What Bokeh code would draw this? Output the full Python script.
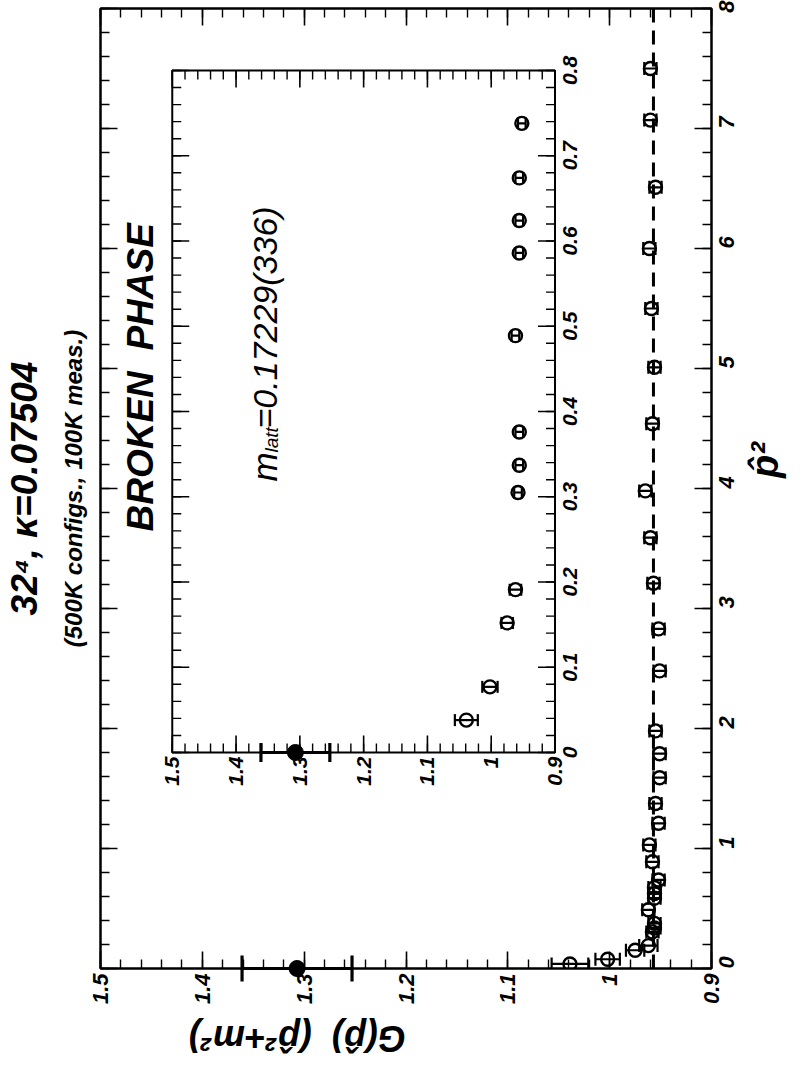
import math
import numpy as np
from bokeh.plotting import figure
from bokeh.models import (Range1d, LinearAxis, FixedTicker, CustomJSTickFormatter,
                          Span, Label, Title, ColumnDataSource)
from bokeh.core.properties import value
from bokeh.embed import file_html
from bokeh.resources import INLINE

# ---------------- data ----------------
P2 = [0.038, 0.077, 0.152, 0.191, 0.305, 0.337, 0.376, 0.489, 0.586, 0.624, 0.674, 0.738,
      0.889, 1.03, 1.21, 1.375, 1.59, 1.79, 1.98, 2.48, 2.83, 3.21, 3.59, 3.98, 4.54,
      5.01, 5.50, 6.00, 6.51, 7.07, 7.50]
G = [1.039, 1.002, 0.975, 0.962, 0.958, 0.956, 0.956, 0.962, 0.956, 0.956, 0.956, 0.952,
     0.958, 0.961, 0.952, 0.955, 0.951, 0.951, 0.955, 0.951, 0.952, 0.957, 0.960, 0.965, 0.958,
     0.956, 0.959, 0.961, 0.955, 0.960, 0.960]
G_ERR = [0.018, 0.012, 0.009, 0.009, 0.006, 0.006, 0.006, 0.006, 0.006, 0.006, 0.006, 0.006,
         0.006, 0.006, 0.006, 0.006, 0.006, 0.006, 0.006, 0.006, 0.006, 0.006, 0.006, 0.006, 0.006,
         0.006, 0.006, 0.006, 0.006, 0.006, 0.006]
ZERO_P2 = [0.0]
ZERO_G = [1.307]
ZERO_ERR = [0.054]
FIT_G = 0.957

G_TICKS = [0.9, 1.0, 1.1, 1.2, 1.3, 1.4, 1.5]
G_TICK_LABELS = ["0.9", "1", "1.1", "1.2", "1.3", "1.4", "1.5"]
P2_TICKS = [0, 1, 2, 3, 4, 5, 6, 7, 8]
P2_TICK_LABELS = ["0", "1", "2", "3", "4", "5", "6", "7", "8"]
INSET_P2_TICKS = [0.0, 0.1, 0.2, 0.3, 0.4, 0.5, 0.6, 0.7, 0.8]
INSET_P2_TICK_LABELS = ["0", "0.1", "0.2", "0.3", "0.4", "0.5", "0.6", "0.7", "0.8"]

G_LIM = (1.5, 0.9)
P2_LIM = (0.0, 8.0)
INSET_P2_LIM = (0.0, 0.8)

NB = "\u00a0"
TITLE = "32\u2074, \u03ba=0.07504"
SUBTITLE = "(500K configs., 100K meas.)"
PHASE_TEXT = "BROKEN" + NB + NB + "PHASE"
MASS_PARTS = ["m", "latt", "=0.17229(336)"]
G_AXIS_LABEL = "G(p\u0302)" + NB + NB + "(p\u0302\u00b2+m\u00b2)"
P2_AXIS_LABEL = "p\u0302\u00b2"

# ---------------- layout (page pixels) ----------------
FONT = "Liberation Sans"
W, H = 809, 1084
FX0, FX1 = 100, 713      # main frame left/right on the page
FY0, FY1 = 8, 968        # main frame top/bottom on the page
IX0, IX1 = 172, 556      # inset frame left/right
IY0, IY1 = 70, 752       # inset frame top/bottom

def gx(px):
    return G_LIM[0] + (px - FX0) * (G_LIM[1] - G_LIM[0]) / (FX1 - FX0)

def gy(py):
    return P2_LIM[0] + (FY1 - py) * (P2_LIM[1] - P2_LIM[0]) / (FY1 - FY0)

p = figure(width=W, height=H, x_range=Range1d(*G_LIM), y_range=Range1d(*P2_LIM),
           output_backend="svg", toolbar_location=None,
           x_axis_location="below", y_axis_location="right",
           min_border_left=FX0, min_border_right=W - FX1,
           min_border_top=FY0, min_border_bottom=H - FY1)
p.grid.visible = False
p.outline_line_color = "black"
p.outline_line_width = 2
p.background_fill_color = "white"
p.border_fill_color = "white"

p.add_layout(LinearAxis(), "above")
p.add_layout(LinearAxis(), "left")

g_minor = list(np.round(np.arange(0.9, 1.5001, 0.02), 3))
p2_minor = list(np.round(np.arange(0.0, 8.0001, 0.2), 3))
ip2_minor = list(np.round(np.arange(0.0, 0.8001, 0.02), 3))

def fmt(vals, labs):
    return CustomJSTickFormatter(args=dict(vals=vals, labs=labs), code="""
        for (let i = 0; i < vals.length; i++) {
            if (Math.abs(vals[i] - tick) < 1e-6) { return labs[i]; }
        }
        return '';
    """)

for ax in p.xaxis:
    ax.ticker = FixedTicker(ticks=G_TICKS, minor_ticks=g_minor)
for ax in p.yaxis:
    ax.ticker = FixedTicker(ticks=P2_TICKS, minor_ticks=p2_minor)

for ax in list(p.xaxis) + list(p.yaxis):
    ax.axis_line_width = 2
    ax.major_tick_in = 17
    ax.major_tick_out = 0
    ax.minor_tick_in = 9
    ax.minor_tick_out = 0
    ax.major_tick_line_width = 1.6
    ax.minor_tick_line_width = 1.4
    ax.major_label_text_font = FONT
    ax.major_label_text_font_style = "bold italic"
    ax.major_label_text_font_size = "22px"
    ax.major_label_text_color = "black"
    ax.major_label_orientation = math.pi / 2

xb = [a for a in p.xaxis if a in p.below][0]
xa = [a for a in p.xaxis if a in p.above][0]
yr = [a for a in p.yaxis if a in p.right][0]
yl = [a for a in p.yaxis if a in p.left][0]
xb.formatter = fmt(G_TICKS, G_TICK_LABELS)
yr.formatter = fmt(P2_TICKS, P2_TICK_LABELS)
xb.major_label_standoff = 5
yr.major_label_standoff = 15
for ax in (xa, yl):
    ax.formatter = fmt([], [])
    ax.major_label_text_font_size = "0px"
    ax.major_label_standoff = 0

# axis titles (rotated like the rest of the page)
xb.axis_label = G_AXIS_LABEL
yr.axis_label = NB + P2_AXIS_LABEL
for ax, ang, so, fs in ((xb, -math.pi, 31, "36px"), (yr, math.pi / 2, 20, "38px")):
    ax.axis_label_text_font = FONT
    ax.axis_label_text_font_style = "bold italic"
    ax.axis_label_text_font_size = fs
    ax.axis_label_text_color = "black"
    ax.axis_label_standoff = so
    try:
        ax.axis_label_orientation = ang
    except Exception:
        pass

# page titles on the left (the page is turned by 90 degrees)
p.add_layout(Title(text=SUBTITLE, align="center", text_font=FONT, text_font_style="bold italic",
                   text_font_size="24px", text_color="black", standoff=27), "left")
p.add_layout(Title(text=TITLE, align="center", text_font=FONT, text_font_style="bold italic",
                   text_font_size="37px", text_color="black", standoff=0), "left")

# ---------------- main data ----------------
P2a = np.array(P2)
Ga = np.array(G)
Ea = np.array(G_ERR)
src = ColumnDataSource(dict(p2=P2a, g=Ga, lo=Ga - Ea, hi=Ga + Ea))
zsrc = ColumnDataSource(dict(p2=ZERO_P2, g=ZERO_G,
                             lo=np.array(ZERO_G) - np.array(ZERO_ERR),
                             hi=np.array(ZERO_G) + np.array(ZERO_ERR)))

p.add_layout(Span(location=FIT_G, dimension="height", line_color="black",
                  line_width=3, line_dash="14 8"))

def draw_points(source, zsource, cap, zcap, level="glyph", **rn):
    p.segment(x0="lo", y0="p2", x1="hi", y1="p2", source=source, line_color="black",
              line_width=2.2, **rn)
    for c in ("lo", "hi"):
        p.scatter(x=c, y="p2", source=source, marker="dash", angle=math.pi / 2, size=cap,
                  line_color="black", line_width=2.2, **rn)
    p.scatter(x="g", y="p2", source=source, marker="circle", size=13, fill_color=None,
              line_color="black", line_width=2.4, **rn)
    rs = [p.segment(x0="lo", y0="p2", x1="hi", y1="p2", source=zsource, line_color="black",
                    line_width=3.2, **rn)]
    for c in ("lo", "hi"):
        rs.append(p.scatter(x=c, y="p2", source=zsource, marker="dash", angle=math.pi / 2,
                            size=zcap, line_color="black", line_width=3.2, **rn))
    rs.append(p.scatter(x="g", y="p2", source=zsource, marker="circle", size=16,
                        fill_color="black", line_color="black", **rn))
    for r in rs:
        r.level = level

draw_points(src, zsrc, 13, 26, level="overlay")

# ---------------- inset (same data, zoomed) ----------------
ipx = (IX1 - IX0) / (G_LIM[0] - G_LIM[1])
ipy = (IY1 - IY0) / (INSET_P2_LIM[1] - INSET_P2_LIM[0])
p.extra_x_ranges = {"ix": Range1d(G_LIM[0] + (IX0 - FX0) / ipx, G_LIM[1] - (FX1 - IX1) / ipx)}
p.extra_y_ranges = {"iy": Range1d(INSET_P2_LIM[0] - (FY1 - IY1) / ipy,
                                  INSET_P2_LIM[1] + (IY0 - FY0) / ipy)}
rn = dict(x_range_name="ix", y_range_name="iy")

mask = P2a <= INSET_P2_LIM[1]
isrc = ColumnDataSource(dict(p2=P2a[mask], g=Ga[mask], lo=(Ga - Ea)[mask], hi=(Ga + Ea)[mask]))
izsrc = ColumnDataSource(dict(zsrc.data))

p.quad(left=[G_LIM[0]], right=[G_LIM[1]], bottom=[INSET_P2_LIM[0]], top=[INSET_P2_LIM[1]],
       fill_color=None, line_color="black", line_width=2, **rn)

def ticks(xs, ys, ang, length, lw):
    p.ray(x=xs, y=ys, length=length, length_units="screen", angle=ang,
          line_color="black", line_width=lw, **rn)

nG, nGm = len(G_TICKS), len(g_minor)
nP, nPm = len(INSET_P2_TICKS), len(ip2_minor)
ticks(G_TICKS, [INSET_P2_LIM[0]] * nG, math.pi / 2, 17, 1.6)
ticks(g_minor, [INSET_P2_LIM[0]] * nGm, math.pi / 2, 9, 1.4)
ticks(G_TICKS, [INSET_P2_LIM[1]] * nG, -math.pi / 2, 17, 1.6)
ticks(g_minor, [INSET_P2_LIM[1]] * nGm, -math.pi / 2, 9, 1.4)
ticks([G_LIM[0]] * nP, INSET_P2_TICKS, 0, 17, 1.6)
ticks([G_LIM[0]] * nPm, ip2_minor, 0, 9, 1.4)
ticks([G_LIM[1]] * nP, INSET_P2_TICKS, math.pi, 17, 1.6)
ticks([G_LIM[1]] * nPm, ip2_minor, math.pi, 9, 1.4)

p.text(x=G_TICKS, y=[INSET_P2_LIM[0]] * nG, text=G_TICK_LABELS, angle=math.pi / 2,
       text_align="right", text_baseline="middle", y_offset=4,
       text_font=value(FONT), text_font_style="bold italic", text_font_size="21px",
       text_color="black", **rn)
p.text(x=[G_LIM[1]] * nP, y=INSET_P2_TICKS, text=INSET_P2_TICK_LABELS, angle=math.pi / 2,
       text_align="center", text_baseline="top", x_offset=8,
       text_font=value(FONT), text_font_style="bold italic", text_font_size="21px",
       text_color="black", **rn)

draw_points(isrc, izsrc, 12, 19, **rn)

# ---------------- texts inside the frame ----------------
def lab(text, px, py, size, style="bold italic", align="left", base="alphabetic",
        angle=math.pi / 2, font=FONT):
    p.add_layout(Label(x=gx(px), y=gy(py), text=text, angle=angle, text_font=font,
                       text_font_style=style, text_font_size=size, text_align=align,
                       text_baseline=base, text_color="black"))

lab(PHASE_TEXT, 140, 531, "37px")
lab(MASS_PARTS[0], 265, 481, "35px", style="italic")
lab(MASS_PARTS[1], 272, 452, "19px", style="italic")
lab(MASS_PARTS[2], 265, 428, "34px", style="italic")

open("out.html", "w").write(file_html(p, INLINE))
